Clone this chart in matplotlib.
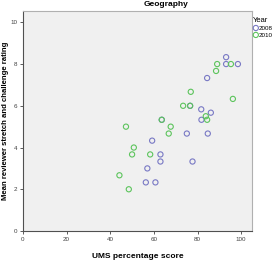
import matplotlib
matplotlib.use("Agg")
import matplotlib.pyplot as plt

plt.rcParams['font.family'] = ['Liberation Sans', 'DejaVu Sans']

title = "Geography"
xlabel = "UMS percentage score"
ylabel = "Mean reviewer stretch and challenge rating"
legend_title = "Year"
series_names = ["2008", "2010"]

x2008 = [93.1, 93.1, 98.5, 84.4, 81.7, 81.8, 86.1, 63.6, 76.6, 75.1, 84.7, 59.2, 63.0, 63.0, 77.7, 57.0, 56.3, 60.7]
y2008 = [8.33, 8.0, 8.0, 7.33, 5.83, 5.33, 5.67, 5.33, 6.0, 4.67, 4.67, 4.33, 3.67, 3.33, 3.33, 3.0, 2.33, 2.33]
x2010 = [89.0, 95.3, 88.5, 76.9, 73.4, 76.6, 96.2, 83.8, 84.4, 63.6, 47.2, 67.7, 66.8, 50.8, 50.0, 58.3, 44.2, 48.5]
y2010 = [8.0, 8.0, 7.67, 6.67, 6.0, 6.0, 6.33, 5.5, 5.33, 5.33, 5.0, 5.0, 4.67, 4.0, 3.67, 3.67, 2.67, 2.0]

xticks = [0, 20, 40, 60, 80, 100]
yticks = [0, 2, 4, 6, 8, 10]

c2008 = "#7878c4"
c2010 = "#5cc45c"

fig = plt.figure(figsize=(2.77, 2.60), dpi=100)
fig.patch.set_facecolor("white")
ax = fig.add_axes([0.083, 0.1115, 0.827, 0.846])
ax.set_facecolor("#f0f0f0")

ax.scatter(x2008, y2008, s=14, facecolors="none", edgecolors=c2008, linewidths=0.8, label=series_names[0], zorder=3)
ax.scatter(x2010, y2010, s=14, facecolors="none", edgecolors=c2010, linewidths=0.8, label=series_names[1], zorder=3)

ax.set_xlim(0, 105)
ax.set_ylim(0, 10.54)
ax.set_xticks(xticks)
ax.set_yticks(yticks)
ax.tick_params(axis="both", labelsize=4.5, length=2.5, width=0.6, colors="#404040", pad=1.5, direction="out")

for side in ["left", "bottom"]:
    ax.spines[side].set_color("#505050")
    ax.spines[side].set_linewidth(0.8)
for side in ["top", "right"]:
    ax.spines[side].set_color("#b0b0b0")
    ax.spines[side].set_linewidth(0.8)

ax.set_xlabel(xlabel, fontsize=6, fontweight="bold", labelpad=8)
fig.text(5.5 / 277, 1 - 121 / 260, ylabel, fontsize=5.6, fontweight="bold",
         rotation=90, ha="center", va="center")
fig.text(166 / 277, 1 - 5 / 260, title, fontsize=6, fontweight="bold", ha="center", va="center")

leg = ax.legend(loc="upper left", bbox_to_anchor=(1.0, 0.98), frameon=False, title=legend_title,
                fontsize=4.5, title_fontsize=5.5, handletextpad=0.1, handlelength=0.8,
                borderaxespad=0.1, borderpad=0.1, labelspacing=0.25, markerscale=1.0)
leg._legend_box.align = "left"

fig.savefig("out.png", dpi=100)
